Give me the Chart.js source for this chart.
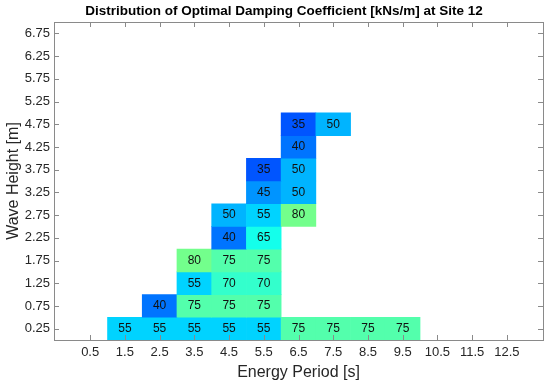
<!DOCTYPE html>
<html>
<head>
<meta charset="utf-8">
<script src="https://cdn.jsdelivr.net/npm/chart.js@4/dist/chart.umd.min.js"></script>
<style>
	html, body { margin: 0; padding: 0; background: #fff; }
	#wrap { width: 550px; height: 386px; }
</style>
</head>
<body>
<div id="wrap"><canvas id="chart"></canvas></div>
<script>
// Optimal damping coefficient [kNs/m], rows = wave height, columns = energy period
const energyPeriods = [1.5, 2.5, 3.5, 4.5, 5.5, 6.5, 7.5, 8.5, 9.5];
const waveHeights = [0.25, 0.75, 1.25, 1.75, 2.25, 2.75, 3.25, 3.75, 4.25, 4.75];

const dampingHs025 = [55, 55, 55, 55, 55, 75, 75, 75, 75];
const dampingHs075 = [null, 40, 75, 75, 75, null, null, null, null];
const dampingHs125 = [null, null, 55, 70, 70, null, null, null, null];
const dampingHs175 = [null, null, 80, 75, 75, null, null, null, null];
const dampingHs225 = [null, null, null, 40, 65, null, null, null, null];
const dampingHs275 = [null, null, null, 50, 55, 80, null, null, null];
const dampingHs325 = [null, null, null, null, 45, 50, null, null, null];
const dampingHs375 = [null, null, null, null, 35, 50, null, null, null];
const dampingHs425 = [null, null, null, null, null, 40, null, null, null];
const dampingHs475 = [null, null, null, null, null, 35, 50, null, null];

const dampingRows = [dampingHs025, dampingHs075, dampingHs125, dampingHs175, dampingHs225,
	dampingHs275, dampingHs325, dampingHs375, dampingHs425, dampingHs475];

const xTickLabels = [0.5, 1.5, 2.5, 3.5, 4.5, 5.5, 6.5, 7.5, 8.5, 9.5, 10.5, 11.5, 12.5];
const yTickLabels = [0.25, 0.75, 1.25, 1.75, 2.25, 2.75, 3.25, 3.75, 4.25, 4.75, 5.25, 5.75, 6.25, 6.75];

const FONT = "'Liberation Sans', Arial, Helvetica, sans-serif";

// jet colormap
function jet(v)
{
	const t = (v - 1.5) / 161;
	const c = (x) => Math.round(255 * Math.max(0, Math.min(1, x)));
	const r = c(Math.min(4 * t - 1.5, -4 * t + 4.5));
	const g = c(Math.min(4 * t - 0.5, -4 * t + 3.5));
	const b = c(Math.min(4 * t + 0.5, -4 * t + 2.5));
	return `rgb(${r},${g},${b})`;
}

// build cells
const cells = [];
waveHeights.forEach((h, i) => {
	dampingRows[i].forEach((v, j) => {
		if (v === null) return;
		cells.push({x: energyPeriods[j], y: [h - 0.25, h + 0.25], v: v});
	});
});

const cellLabels = {
	id: 'cellLabels',
	afterDatasetsDraw(chart)
	{
		const ctx = chart.ctx;
		const meta = chart.getDatasetMeta(0);
		ctx.save();
		ctx.font = `12px ${FONT}`;
		ctx.fillStyle = '#111';
		ctx.textAlign = 'center';
		ctx.textBaseline = 'middle';
		meta.data.forEach((bar, i) => {
			const p = bar.getProps(['x', 'y', 'base'], true);
			ctx.fillText(String(cells[i].v), p.x, (p.y + p.base) / 2);
		});
		ctx.restore();
	}
};

// box frame with inward ticks on all sides, and the title
const frame = {
	id: 'frame',
	afterDraw(chart)
	{
		const ctx = chart.ctx;
		const a = chart.chartArea;
		const xs = chart.scales.x;
		const ys = chart.scales.y;
		const len = 5;
		ctx.save();
		ctx.strokeStyle = '#8a8a8a';
		ctx.lineWidth = 1;
		ctx.strokeRect(Math.round(a.left) + 0.5, Math.round(a.top) + 0.5,
			Math.round(a.right - a.left), Math.round(a.bottom - a.top));
		ctx.beginPath();
		xTickLabels.forEach(v => {
			const px = Math.round(xs.getPixelForValue(v)) + 0.5;
			ctx.moveTo(px, a.bottom); ctx.lineTo(px, a.bottom - len);
			ctx.moveTo(px, a.top); ctx.lineTo(px, a.top + len);
		});
		yTickLabels.forEach(v => {
			const py = Math.round(ys.getPixelForValue(v)) + 0.5;
			ctx.moveTo(a.left, py); ctx.lineTo(a.left + len, py);
			ctx.moveTo(a.right, py); ctx.lineTo(a.right - len, py);
		});
		ctx.stroke();

		ctx.font = `bold 13.5px ${FONT}`;
		ctx.fillStyle = '#000';
		ctx.textAlign = 'center';
		ctx.textBaseline = 'middle';
		ctx.fillText('Distribution of Optimal Damping Coefficient [kNs/m] at Site 12', 284, 11);
		ctx.restore();
	}
};

new Chart(document.getElementById('chart'), {
	type: 'bar',
	data: {
		datasets: [{
			data: cells,
			backgroundColor: cells.map(c => jet(c.v)),
			borderWidth: 0,
			barPercentage: 1,
			categoryPercentage: 1,
		}]
	},
	options: {
		responsive: true,
		maintainAspectRatio: false,
		animation: false,
		layout: {padding: {top: 22, right: 7, left: 0, bottom: 0}},
		plugins: {
			legend: {display: false},
			tooltip: {enabled: false},
			title: {display: false},
		},
		scales: {
			x: {
				type: 'linear',
				min: 0,
				max: 13,
				afterBuildTicks: (s) => { s.ticks = xTickLabels.map(v => ({value: v})); },
				afterFit: (s) => { s.height = 46; },
				grid: {display: false, drawTicks: false},
				border: {display: false},
				ticks: {
					padding: 5,
					color: '#262626',
					font: {family: FONT, size: 13},
					maxRotation: 0,
					autoSkip: false,
					callback: (v) => v.toFixed(1),
				},
				title: {
					display: true,
					text: 'Energy Period [s]',
					color: '#262626',
					font: {family: FONT, size: 16},
					padding: 4,
				},
			},
			y: {
				type: 'linear',
				min: 0,
				max: 7,
				afterBuildTicks: (s) => { s.ticks = yTickLabels.map(v => ({value: v})); },
				afterFit: (s) => { s.width = 54; },
				grid: {display: false, drawTicks: false},
				border: {display: false},
				ticks: {
					padding: 4,
					color: '#262626',
					font: {family: FONT, size: 13},
					autoSkip: false,
					callback: (v) => v.toFixed(2),
				},
				title: {
					display: true,
					text: 'Wave Height [m]',
					color: '#262626',
					font: {family: FONT, size: 16},
					padding: 4,
				},
			},
		},
	},
	plugins: [cellLabels, frame],
});
</script>
</body>
</html>
